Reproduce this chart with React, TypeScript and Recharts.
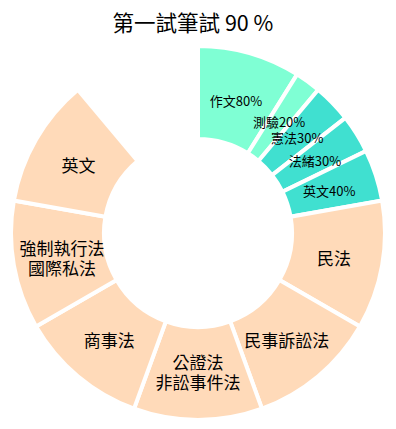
import React from 'react';
import { PieChart, Pie, Cell } from 'recharts';

const categories = [
  '作文80%',
  '測驗20%',
  '憲法30%',
  '法緒30%',
  '英文40%',
  '民法',
  '民事訴訟法',
  '公證法\n非訟事件法',
  '商事法',
  '強制執行法\n國際私法',
  '英文',
  '',
];
const values = [8, 2, 3, 3, 4, 10, 10, 10, 10, 10, 10, 10];
const groups = ['sub1', 'sub1', 'sub2', 'sub2', 'sub2', 'main', 'main', 'main', 'main', 'main', 'main', 'blank'];

const groupColor: Record<string, string> = {
  sub1: '#7FFFD4',
  sub2: '#40E0D0',
  main: '#FFDAB9',
  blank: '#ffffff',
};

const data = categories.map((name, i) => ({ name, value: values[i], group: groups[i] }));

const FONT = '"Noto Sans CJK TC", "Noto Sans CJK JP", "Noto Sans", sans-serif';

const renderLabel = (props: any) => {
  const { cx, cy, midAngle } = props;
  const index = props.index;
  const name = categories[index];
  if (!name) return null;
  const r = 138;
  const rad = Math.PI / 180;
  const x = cx + r * Math.cos(-midAngle * rad);
  const y = cy + r * Math.sin(-midAngle * rad);
  const lines = name.split('\n');
  const fs = groups[index] === 'main' ? 17 : 13;
  const lh = fs + 3;
  return (
    <text
      x={x}
      y={y}
      textAnchor="middle"
      dominantBaseline="central"
      fontSize={fs}
      fill="#000"
      fontFamily={FONT}
    >
      {lines.map((l, i) => (
        <tspan key={i} x={x} dy={i === 0 ? -((lines.length - 1) * lh) / 2 : lh}>
          {l}
        </tspan>
      ))}
    </text>
  );
};

export default function App() {
  return (
    <div style={{ position: 'absolute', left: 0, top: 0, width: 396, height: 429, background: '#fff' }}>
      <div
        style={{
          position: 'absolute',
          left: 0,
          top: 0,
          width: 386,
          lineHeight: '44px',
          textAlign: 'center',
          fontSize: 21.5,
          fontFamily: FONT,
          color: '#000',
        }}
      >
        第一試筆試 90 %
      </div>
      <PieChart width={396} height={429} margin={{ top: 0, right: 0, bottom: 0, left: 0 }}>
        <Pie
          data={data}
          dataKey="value"
          nameKey="name"
          cx={198}
          cy={233}
          innerRadius={94}
          outerRadius={187}
          startAngle={90}
          endAngle={-270}
          stroke="#fff"
          strokeWidth={4}
          labelLine={false}
          label={renderLabel}
          isAnimationActive={false}
        >
          {data.map((d, i) => (
            <Cell key={i} fill={groupColor[d.group]} stroke={d.group === 'blank' ? 'none' : '#fff'} />
          ))}
        </Pie>
      </PieChart>
    </div>
  );
}
